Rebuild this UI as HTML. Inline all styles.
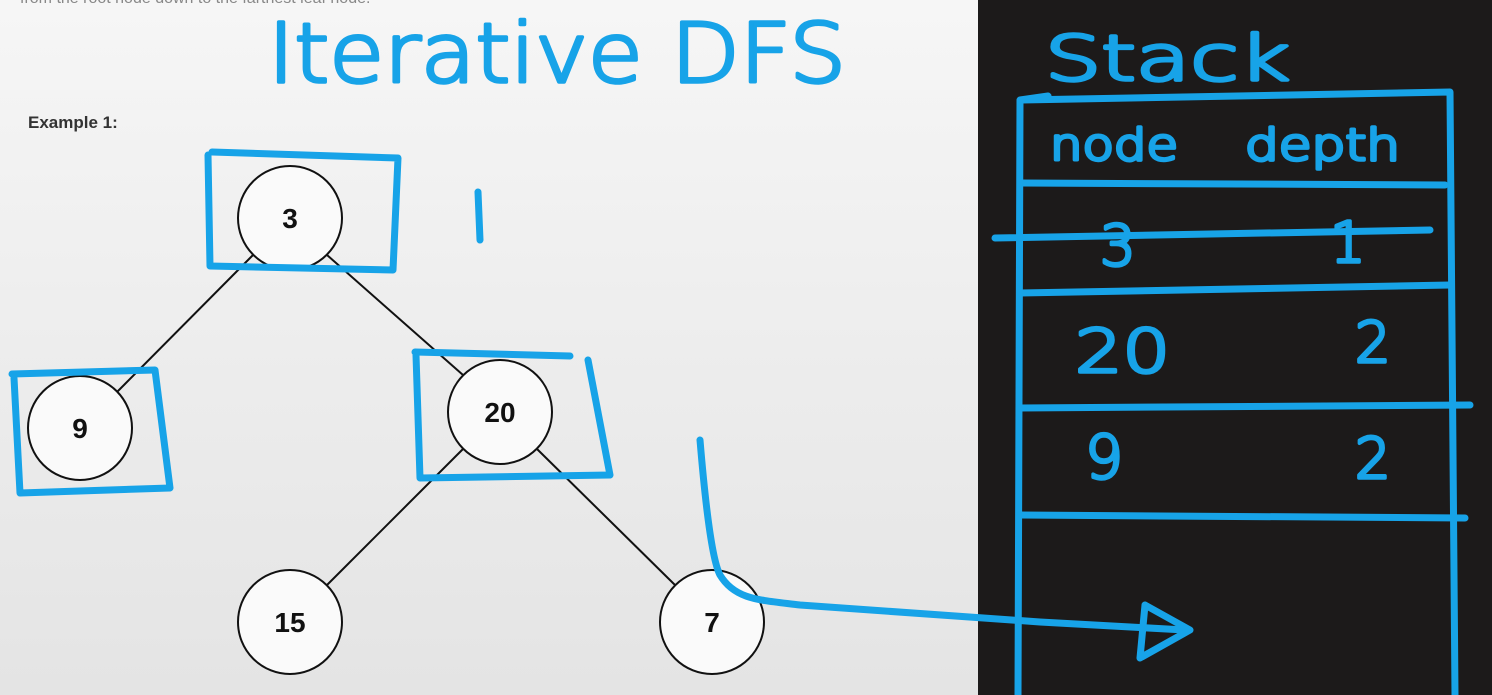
<!DOCTYPE html>
<html><head><style>
html,body{margin:0;padding:0;width:1492px;height:695px;overflow:hidden;}
svg{display:block}
.h{font-family:"DejaVu Sans","Liberation Sans",sans-serif;font-weight:200;fill:#17a3e8;stroke:#17a3e8;stroke-width:3.5;stroke-linejoin:round}
</style></head><body>
<svg width="1492" height="695" viewBox="0 0 1492 695" xmlns="http://www.w3.org/2000/svg">
<defs><linearGradient id="bg" x1="0" y1="0" x2="0" y2="1"><stop offset="0" stop-color="#f6f6f6"/><stop offset="1" stop-color="#e4e4e4"/></linearGradient></defs>
<rect x="0" y="0" width="978" height="695" fill="url(#bg)"/>
<rect x="978" y="0" width="514" height="695" fill="#1c1a1a"/>
<text x="20" y="3" font-family="Liberation Sans" font-size="16" fill="#888">from the root node down to the farthest leaf node.</text>
<text x="28" y="128" font-family="Liberation Sans, sans-serif" font-weight="bold" font-size="17" fill="#333">Example 1:</text>
<text x="268" y="82" class="h" font-size="82" textLength="578" lengthAdjust="spacingAndGlyphs">Iterative DFS</text>
<g stroke="#111" stroke-width="2" fill="none">
<line x1="253" y1="255" x2="117" y2="392"/><line x1="327" y1="255" x2="463" y2="375"/>
<line x1="463" y1="449" x2="327" y2="585"/><line x1="537" y1="449" x2="675" y2="585"/>
</g>
<g stroke="#111" stroke-width="2" fill="#fafafa">
<circle cx="290" cy="218" r="52"/><circle cx="80" cy="428" r="52"/><circle cx="500" cy="412" r="52"/><circle cx="290" cy="622" r="52"/><circle cx="712" cy="622" r="52"/>
</g>
<g font-family="Liberation Sans, sans-serif" font-weight="bold" font-size="28" fill="#111" text-anchor="middle">
<text x="290" y="228">3</text><text x="80" y="438">9</text><text x="500" y="422">20</text><text x="290" y="632">15</text><text x="712" y="632">7</text>
</g>
<g stroke="#17a3e8" stroke-width="7" fill="none" stroke-linecap="round" stroke-linejoin="round">
<path d="M212,152 L398,158 L393,270 L210,266 L208,155"/>
<path d="M12,374 L155,370 L170,488 L20,493 L14,378"/>
<path d="M415,352 L570,356 M588,360 L610,475 L420,478 L416,355"/>
<path d="M478,192 L480,240"/>
<path d="M700,440 C705,500 712,560 720,575 C735,600 760,600 800,605 L1040,622 L1185,630"/>
<path d="M1145,605 L1190,630 L1140,658 Z"/>
<path d="M1048,96 L1020,100 L1018,695 M1022,100 L1450,92 L1455,695"/>
<path d="M1020,183 L1445,185"/>
<path d="M995,238 L1430,230"/>
<path d="M1020,293 L1450,285"/>
<path d="M1020,408 L1470,405"/>
<path d="M1020,515 L1465,518"/>
</g>
<g class="h">
<text x="1045" y="80" font-size="62" textLength="245" lengthAdjust="spacingAndGlyphs">Stack</text>
<text x="1050" y="160" font-size="44" textLength="128" lengthAdjust="spacingAndGlyphs">node</text>
<text x="1245" y="160" font-size="44" textLength="155" lengthAdjust="spacingAndGlyphs">depth</text>
<text x="1100" y="265" font-size="56">3</text>
<text x="1330" y="262" font-size="56">1</text>
<text x="1075" y="372" font-size="60" textLength="95" lengthAdjust="spacingAndGlyphs">20</text>
<text x="1355" y="362" font-size="56">2</text>
<text x="1085" y="478" font-size="60">9</text>
<text x="1355" y="478" font-size="56">2</text>
</g>
</svg>
</body></html>
